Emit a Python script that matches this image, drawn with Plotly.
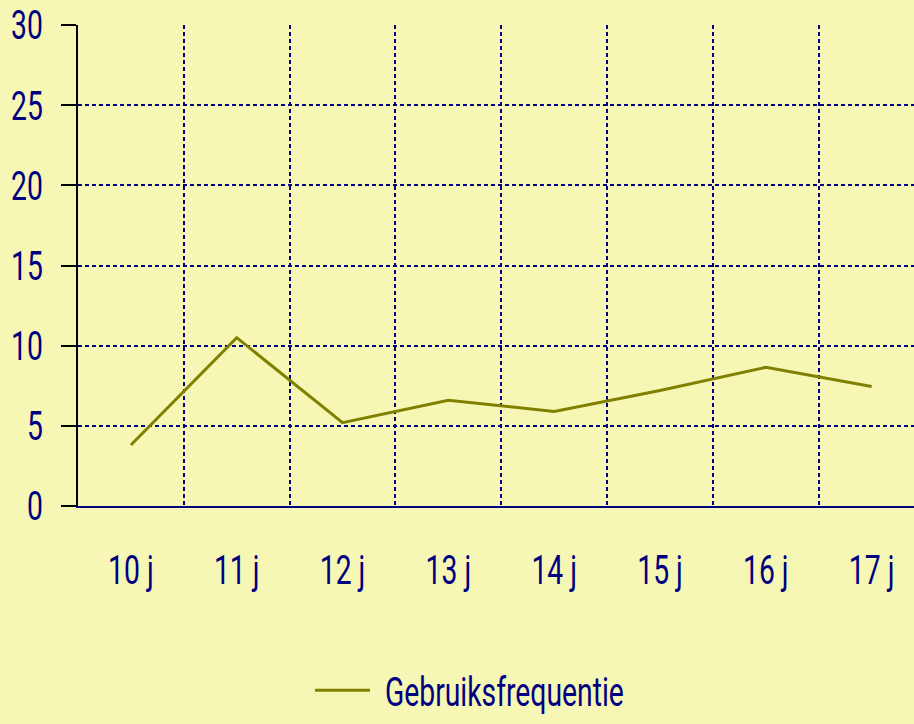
import plotly.graph_objects as go

# usage frequency by age
ages = ["10 j", "11 j", "12 j", "13 j", "14 j", "15 j", "16 j", "17 j"]
frequency = [3.8, 10.5, 5.2, 6.6, 5.9, 7.2, 8.65, 7.45]
y_ticks = [0, 5, 10, 15, 20, 25, 30]

navy = "#000080"
bg = "#F7F7B5"
font = "Roboto, sans-serif"

fig = go.Figure()
fig.add_trace(go.Scatter(
    x=ages, y=frequency, mode="lines", name="Gebruiksfrequentie",
    line=dict(color="#808000", width=3),
))

fig.update_layout(
    width=914, height=724,
    paper_bgcolor=bg, plot_bgcolor=bg,
    margin=dict(l=78, r=0, t=25, b=218),
    font=dict(family=font, color=navy, size=41),
    showlegend=True,
    legend=dict(orientation="h", xref="container", yref="container",
                x=345 / 914, xanchor="left", y=-0.016, yanchor="bottom",
                font=dict(size=41), bgcolor="rgba(0,0,0,0)"),
)

fig.update_xaxes(
    type="category", range=[-0.5, 7.4], tickson="boundaries",
    showgrid=True, gridcolor=navy, griddash="4px,3px", gridwidth=2,
    ticks="", ticklabelstandoff=27, automargin=False,
    showline=True, linecolor=navy, linewidth=2,
    zeroline=False,
)
fig.update_yaxes(
    range=[0, 30], tickvals=y_ticks,
    showgrid=True, gridcolor=navy, griddash="4px,3px", gridwidth=2,
    ticks="outside", ticklen=15, tickcolor="black", tickwidth=2,
    showline=True, linecolor="black", linewidth=2,
    zeroline=False, ticklabelstandoff=10, automargin=False,
)

# no page margin; squeeze the glyphs to look like the narrow original face,
# and draw the legend sample line longer like the original
js = """
document.body.style.margin = '0';
function squeeze() {
  document.querySelectorAll('svg text').forEach(function (t) {
    if (t.dataset.sq || !t.textContent) return;
    var w = t.getComputedTextLength();
    if (!w) return;
    t.setAttribute('textLength', (w * 0.69).toFixed(1));
    t.setAttribute('lengthAdjust', 'spacingAndGlyphs');
    t.dataset.sq = '1';
  });
  document.querySelectorAll('.legend [clip-path]').forEach(function (g) {
    g.removeAttribute('clip-path');
  });
  document.querySelectorAll('.legend path.js-line').forEach(function (p) {
    p.setAttribute('d', 'M-30,0h55');
  });
}
var gd = document.getElementById('{plot_id}');
squeeze();
if (gd && gd.on) gd.on('plotly_afterplot', squeeze);
[10, 50, 150, 400].forEach(function (ms) { setTimeout(squeeze, ms); });
"""
fig.write_html("out.html", post_script=js, config={"displayModeBar": False})
